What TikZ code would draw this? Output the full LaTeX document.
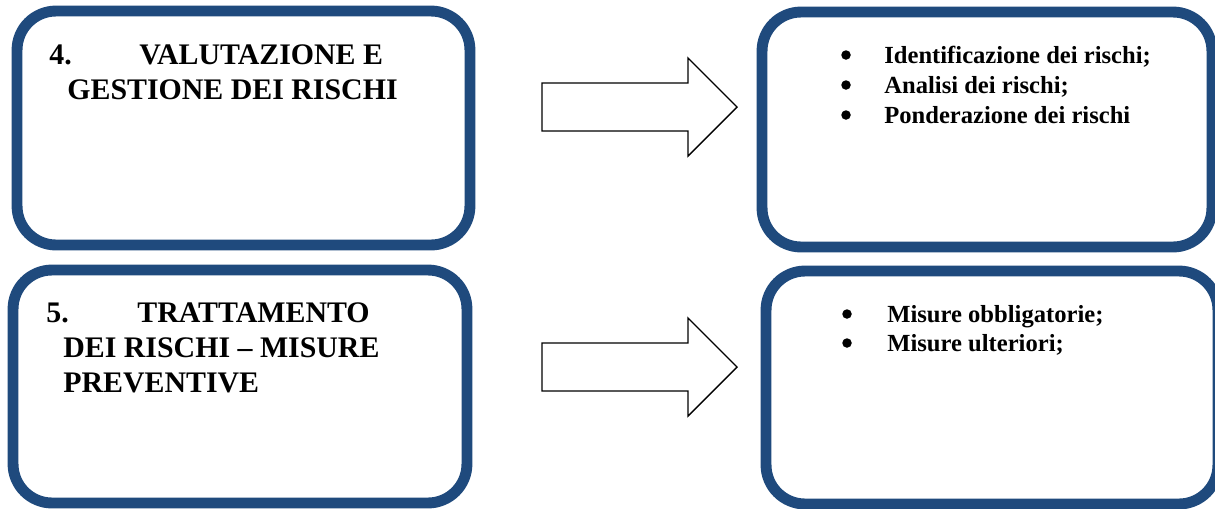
\documentclass[tikz,border=0pt]{standalone}
\usepackage{fontspec}
\setmainfont{Liberation Serif}
\definecolor{boxblue}{HTML}{1F4A7D}
\tikzset{
  riskbox/.style={draw=boxblue, line width=6.2pt, rounded corners=0.78cm, inner sep=0pt},
  bigarrow/.style={draw=black, line width=0.8pt, fill=white},
  headtxt/.style={anchor=base west, inner sep=0pt, font=\bfseries\fontsize{17}{20}\selectfont},
  itemtxt/.style={anchor=base west, inner sep=0pt, font=\bfseries\fontsize{14}{17}\selectfont},
  itemdot/.style={circle, fill=black, inner sep=0pt, minimum size=0.19cm},
}
\begin{document}
\begin{tikzpicture}[x=0.02cm, y=-0.02cm]
    \useasboundingbox (0,0) rectangle (1215,508);
    % the four frames
    \node[riskbox, minimum width=9.06cm, minimum height=4.68cm] (valbox) at (243.5,128) {};
    \node[riskbox, minimum width=9.00cm, minimum height=4.70cm] (idbox) at (987,129.5) {};
    \node[riskbox, minimum width=9.08cm, minimum height=4.66cm] (tratbox) at (240,386.5) {};
    \node[riskbox, minimum width=9.04cm, minimum height=4.66cm] (misbox) at (992,387.5) {};
    % block arrows
    \foreach \dy in {0, 260}
    \draw[bigarrow] (542,{83+\dy}) -- (688,{83+\dy}) -- (688,{58+\dy}) -- (737,{107+\dy})
        -- (688,{156+\dy}) -- (688,{131+\dy}) -- (542,{131+\dy}) -- cycle;
    % left texts
    \node[headtxt] (valnum) at (49,64) {4.};
    \node[headtxt] (valone) at (139,64) {VALUTAZIONE E};
    \node[headtxt] (valtwo) at (67,99) {GESTIONE DEI RISCHI};
    \node[headtxt] (tratnum) at (46,322) {5.};
    \node[headtxt] (tratone) at (137,322) {TRATTAMENTO};
    \node[headtxt] (trattwo) at (63,357) {DEI RISCHI – MISURE};
    \node[headtxt] (tratthree) at (63,392) {PREVENTIVE};
    % bullet lists
    \foreach \txt [count=\i] in {Identificazione dei rischi;, Analisi dei rischi;, Ponderazione dei rischi} {
    \node[itemdot] (iddot\i) at (846,{25+30*\i}) {};
    \node[itemtxt] (iditem\i) at (884,{33+30*\i}) {\txt};
    }
    \foreach \txt [count=\i] in {Misure obbligatorie;, Misure ulteriori;} {
    \node[itemdot] (misdot\i) at (847,{285+29*\i}) {};
    \node[itemtxt] (misitem\i) at (887,{293+29*\i}) {\txt};
    }
\end{tikzpicture}
\end{document}
